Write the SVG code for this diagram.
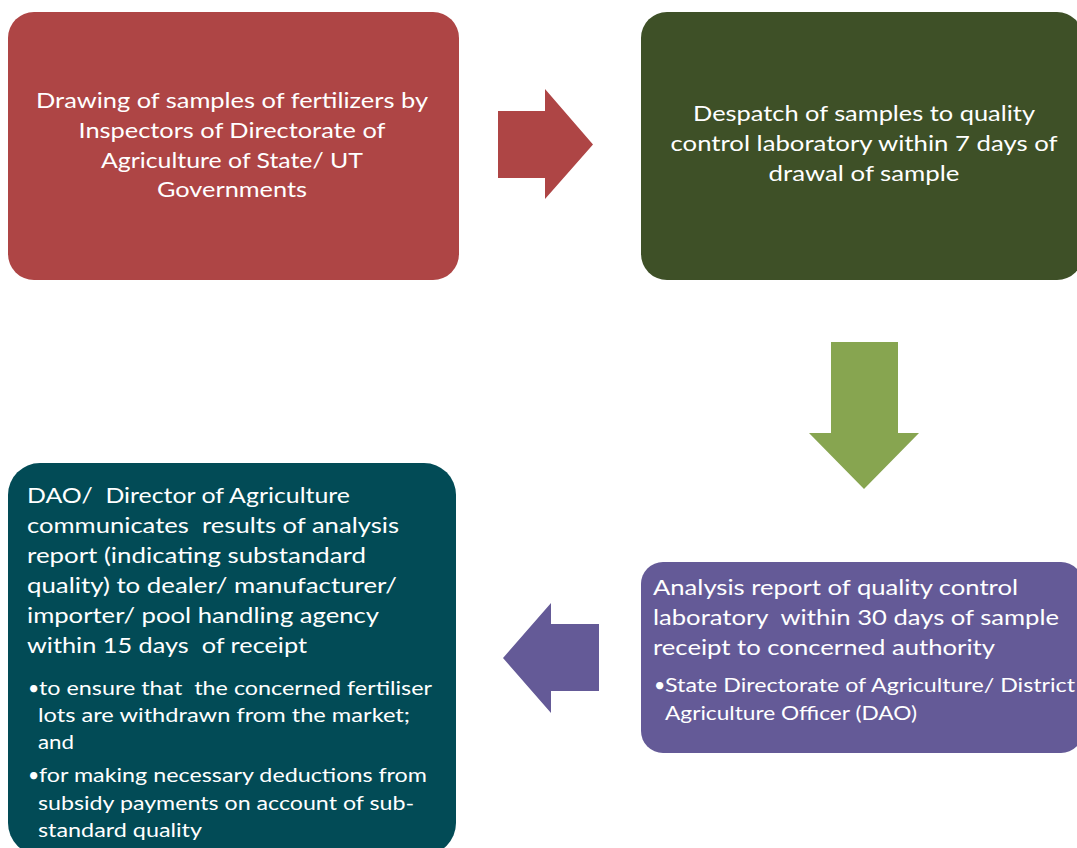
<svg xmlns="http://www.w3.org/2000/svg" width="1077" height="848" viewBox="0 0 1077 848">
<style>
.t{font-family:Lato,"Open Sans","Liberation Sans",sans-serif;fill:#ffffff;white-space:pre;}
.m{font-size:22px;}
.s{font-size:19.5px;}
.c{text-anchor:middle;}
</style>
<rect width="1077" height="848" fill="#ffffff"/>
<g id="connectors">
<polygon id="arrow-right" points="498,111 545,111 545,89 593,144.5 545,199 545,178 498,178" fill="#AE4545"/>
<polygon id="arrow-down" points="831,342 898,342 898,433 919,433 864,489 809,433 831,433" fill="#87A550"/>
<polygon id="arrow-left" points="599,624 551,624 551,603 503,658 551,713 551,691 599,691" fill="#645A97"/>
</g>
<g id="node-drawing">
<rect x="8" y="12" width="451" height="268" rx="26" fill="#AE4545"/>
<text class="t m c" x="232" y="108" textLength="392" lengthAdjust="spacingAndGlyphs">Drawing of samples of fertilizers by</text>
<text class="t m c" x="232" y="138" textLength="307" lengthAdjust="spacingAndGlyphs">Inspectors of Directorate of</text>
<text class="t m c" x="232" y="168" textLength="262" lengthAdjust="spacingAndGlyphs">Agriculture of State/ UT</text>
<text class="t m c" x="232" y="197" textLength="150" lengthAdjust="spacingAndGlyphs">Governments</text>
</g>
<g id="node-despatch">
<rect x="641" y="12" width="442" height="268" rx="26" fill="#3E5027"/>
<text class="t m c" x="864" y="121" textLength="342" lengthAdjust="spacingAndGlyphs">Despatch of samples to quality</text>
<text class="t m c" x="864" y="151" textLength="387" lengthAdjust="spacingAndGlyphs">control laboratory within 7 days of</text>
<text class="t m c" x="864" y="181" textLength="191" lengthAdjust="spacingAndGlyphs">drawal of sample</text>
</g>
<g id="node-analysis">
<rect x="641" y="562" width="442" height="191" rx="22" fill="#645A97"/>
<text class="t m" x="653" y="595" textLength="365" lengthAdjust="spacingAndGlyphs">Analysis report of quality control</text>
<text class="t m" x="653" y="625" textLength="406" lengthAdjust="spacingAndGlyphs">laboratory  within 30 days of sample</text>
<text class="t m" x="653" y="655" textLength="342" lengthAdjust="spacingAndGlyphs">receipt to concerned authority</text>
<text class="t s" x="654" y="692">•</text>
<text class="t s" x="665" y="692" textLength="410" lengthAdjust="spacingAndGlyphs">State Directorate of Agriculture/ District</text>
<text class="t s" x="665" y="720" textLength="252" lengthAdjust="spacingAndGlyphs">Agriculture Officer (DAO)</text>
</g>
<g id="node-communicate">
<rect x="8" y="463" width="448" height="392" rx="32" fill="#024B56"/>
<text class="t m" x="27" y="503" textLength="323" lengthAdjust="spacingAndGlyphs">DAO/  Director of Agriculture</text>
<text class="t m" x="27" y="533" textLength="372" lengthAdjust="spacingAndGlyphs">communicates  results of analysis</text>
<text class="t m" x="27" y="563" textLength="339" lengthAdjust="spacingAndGlyphs">report (indicating substandard</text>
<text class="t m" x="27" y="593" textLength="370" lengthAdjust="spacingAndGlyphs">quality) to dealer/ manufacturer/</text>
<text class="t m" x="27" y="623" textLength="352" lengthAdjust="spacingAndGlyphs">importer/ pool handling agency</text>
<text class="t m" x="27" y="653" textLength="280" lengthAdjust="spacingAndGlyphs">within 15 days  of receipt</text>
<text class="t s" x="28" y="695">•</text>
<text class="t s" x="39" y="695" textLength="393" lengthAdjust="spacingAndGlyphs">to ensure that  the concerned fertiliser</text>
<text class="t s" x="38" y="722" textLength="372" lengthAdjust="spacingAndGlyphs">lots are withdrawn from the market;</text>
<text class="t s" x="38" y="749" textLength="36" lengthAdjust="spacingAndGlyphs">and</text>
<text class="t s" x="28" y="782">•</text>
<text class="t s" x="39" y="782" textLength="388" lengthAdjust="spacingAndGlyphs">for making necessary deductions from</text>
<text class="t s" x="38" y="810" textLength="376" lengthAdjust="spacingAndGlyphs">subsidy payments on account of sub-</text>
<text class="t s" x="38" y="837" textLength="164" lengthAdjust="spacingAndGlyphs">standard quality</text>
</g>
</svg>
